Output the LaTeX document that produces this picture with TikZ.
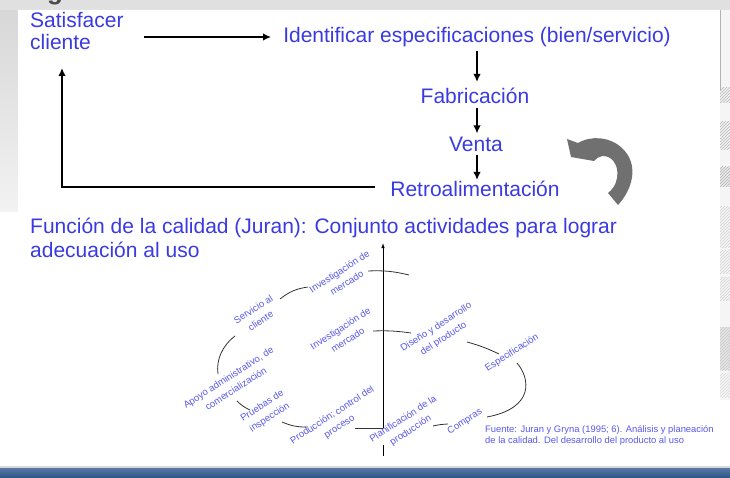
\documentclass[tikz,border=0pt]{standalone}
\usepackage{fontspec}
\setmainfont{Liberation Sans}
\usetikzlibrary{arrows.meta,patterns,calc}
\definecolor{txtblue}{RGB}{58,58,226}
\definecolor{lblblue}{RGB}{88,88,238}
\definecolor{barblue}{RGB}{44,86,138}
\definecolor{bargray}{RGB}{112,112,112}
\definecolor{slidegray}{RGB}{226,226,226}

\begin{document}
\begin{tikzpicture}[x=1pt,y=-1pt,
  big/.style={text=txtblue, font=\fontsize{21}{23}\selectfont, inner sep=0pt},
  flow/.style={line width=2.2pt, -{Latex[length=8pt,width=7.5pt]}},
  lbl/.style={text=lblblue, font=\fontsize{9.6}{13.5}\selectfont, rotate=33,
              align=center, inner sep=0pt},
  spiral/.style={line width=0.8pt, draw=black!80},
  hatch/.style={pattern=north east lines, pattern color=black!30},
]
\useasboundingbox (0,0) rectangle (730,478);

% slide background
\fill[slidegray] (0,0) rectangle (730,478);
\shade[top color=black!16, bottom color=black!5] (0,0) rectangle (18,212);
\fill[black!12] (0,0) rectangle (730,10);
\fill[white] (18,10) -- (720,10) -- (720,400) -- (730,400) -- (730,466)
  -- (0,466) -- (0,212) -- (18,212) -- cycle;
\fill[black!4] (720,10) rectangle (730,400);
\draw[black!30, line width=0.6pt] (720,10) -- (720,90);
\fill[hatch] (720,88) rectangle (730,103);
\fill[hatch] (720,122) rectangle (730,150);
\fill[black!8] (720,167) rectangle (730,187);
\fill[hatch] (720,167) rectangle (730,187);
\fill[hatch, pattern color=black!18] (720,207) rectangle (730,247);
\fill[hatch, pattern color=black!18] (720,250) rectangle (730,273);
\fill[hatch, pattern color=black!18] (720,277) rectangle (730,300);
\fill[black!10] (720,327) rectangle (730,370);
\fill[hatch, pattern color=black!22] (720,327) rectangle (730,370);
\fill[hatch, pattern color=black!14] (720,373) rectangle (730,397);

% title fragment at the top edge
\begin{scope}
  \clip (0,0) rectangle (730,9);
  \node[anchor=base west, inner sep=0pt, text=black!70,
        font=\fontsize{26}{26}\bfseries] (titleg) at (47,0) {g};
\end{scope}

% bottom bar
\fill[black!15] (0,466) rectangle (730,468);
\shade[top color=barblue!80, bottom color=barblue] (0,468) rectangle (730,478);

% ---------- upper cycle ----------
\node[big, align=left, anchor=west, font=\fontsize{21}{22}\selectfont]
  (sat) at (30,31) {Satisfacer\\cliente};
\node[big] (ident) at (477,37) {Identificar especificaciones (bien/servicio)};
\node[big] (fab) at (475,96) {Fabricación};
\node[big] (venta) at (476,144) {Venta};
\node[big] (retro) at (475,189) {Retroalimentación};

\draw[flow] ($(sat.east |- ident.west)+(20,0)$) -- ($(ident.west)+(-12,0)$);
\draw[flow] ($(ident.south)+(0,4)$) -- ($(ident.south |- fab.north)+(0,-6)$);
\draw[flow] ($(ident.south |- fab.south)+(0,4)$) -- ($(ident.south |- venta.north)+(0,-3)$);
\draw[flow] ($(ident.south |- venta.south)+(0,3)$) -- ($(ident.south |- retro.north)+(0,-1)$);
\coordinate (fbend) at (62,68);
\draw[flow] ($(retro.west)+(-15,-2)$) -| (fbend);

% curved grey arrow
\fill[bargray] (567,139) -- (571,157) -- (594,161)
  .. controls (603,150) and (620,158) .. (617,178)
  .. controls (616,185) and (612,190) .. (608,193)
  -- (618,205)
  .. controls (632,190) and (640,165) .. (622,148)
  .. controls (610,137) and (592,135) .. (578,143) -- cycle;

\node[big, align=left, anchor=west, font=\fontsize{21}{24}\selectfont]
  (juran) at (30,238)
  {Función de la calidad (Juran): Conjunto actividades para lograr\\adecuación al uso};

% ---------- quality spiral ----------
\coordinate (axtop) at (383,243);
\coordinate (axmid) at (383,428);
\coordinate (axlow) at (383,445);
\coordinate (axbot) at (383,456);
\draw[line width=0.8pt, -{Latex[length=5pt,width=3.5pt]}] (axmid) -- (axtop);
\draw[line width=0.8pt] (axlow) -- (axbot);

\node[lbl] (l1) at (343,277) {Investigación de\\mercado};
\node[lbl] (l2) at (257,315) {Servicio al\\cliente};
\node[lbl] (l3) at (344,334) {Investigación de\\mercado};
\node[lbl] (l4) at (440,333) {Diseño y desarrollo\\del producto};
\node[lbl] (l5) at (512,353) {Especificación};
\node[lbl] (l6) at (465,422) {Compras};
\node[lbl] (l7) at (407,425) {Planificación de la\\producción};
\node[lbl] (l8) at (336,421) {Producción; control del\\proceso};
\node[lbl] (l9) at (266,412) {Pruebas de\\inspección};
\node[lbl] (l10) at (232,383) {Apoyo administrativo, de\\comercialización};

\coordinate (s1a) at (280,299);  \coordinate (s1b) at (308,287);
\coordinate (s2a) at (368,271);  \coordinate (s2b) at (409,275);
\coordinate (s3a) at (373,331);  \coordinate (s3b) at (411,333);
\coordinate (s4a) at (235,336);  \coordinate (s4b) at (218,374);
\coordinate (s5a) at (237,401);  \coordinate (s5b) at (250,410);
\coordinate (s6a) at (282,422);  \coordinate (s6b) at (308,427);
\coordinate (s7a) at (355,428);
\coordinate (s8a) at (433,426);  \coordinate (s8b) at (448,424);
\coordinate (s9a) at (467,342);  \coordinate (s9b) at (499,354);
\coordinate (s10a) at (517,363); \coordinate (s10b) at (487,417);

\draw[spiral] (s1a) to[bend left=15] (s1b);
\draw[spiral] (s2a) to[bend left=8] (s2b);
\draw[spiral] (s3a) to[bend left=5] (s3b);
\draw[spiral] (s4a) .. controls (222,346) and (216,360) .. (s4b);
\draw[spiral] (s5a) to[bend right=10] (s5b);
\draw[spiral] (s6a) to[bend right=12] (s6b);
\draw[spiral] (s7a) -- (axmid);
\draw[spiral] (s8a) to[bend left=5] (s8b);
\draw[spiral] (s9a) to[bend left=5] (s9b);
\draw[spiral] (s10a) .. controls (530,378) and (535,408) .. (s10b);

\node[text=lblblue, font=\fontsize{9.4}{11}\selectfont, align=left,
      anchor=west, inner sep=0pt] (fuente) at (485,436)
  {Fuente: Juran y Gryna (1995; 6). Análisis y planeación\\de la calidad. Del desarrollo del producto al uso};
\end{tikzpicture}
\end{document}
